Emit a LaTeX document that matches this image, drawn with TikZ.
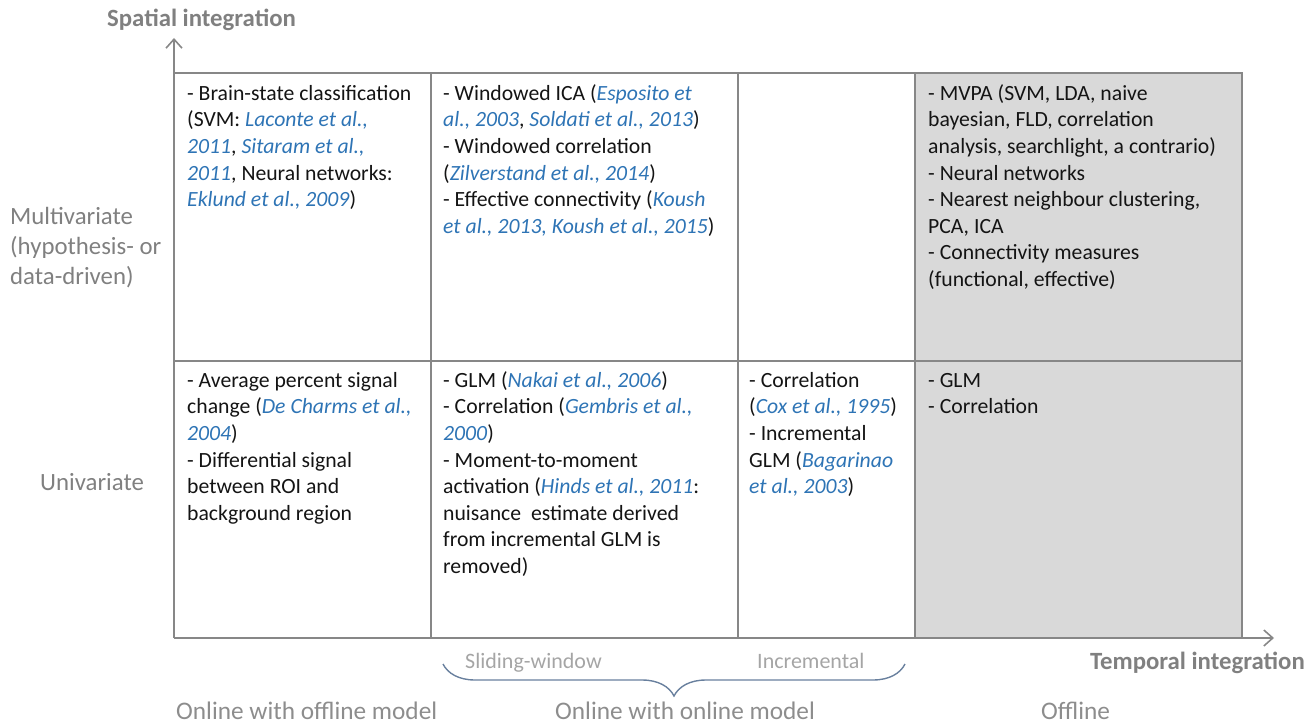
\documentclass[tikz,border=0pt]{standalone}
\usepackage{fontspec}
\setmainfont{Carlito}
\usetikzlibrary{arrows.meta,decorations.pathreplacing}
\definecolor{citeblue}{RGB}{46,116,181}
\definecolor{linegray}{RGB}{135,135,135}
\definecolor{cellgray}{RGB}{217,217,217}
\definecolor{labelgray}{RGB}{128,128,128}
\definecolor{lightlabel}{RGB}{165,165,165}
\definecolor{bracecol}{RGB}{105,128,158}
\newcommand{\rf}[1]{\textcolor{citeblue}{\textit{#1}}}
\begin{document}
\begin{tikzpicture}[x=1pt,y=-1pt,
  gridline/.style={draw=linegray,line width=2pt},
  axis/.style={draw=linegray,line width=2pt,-{Straight Barb[length=9pt,width=16pt,line width=1.6pt]}},
  celltext/.style={anchor=north west,inner sep=0pt,align=left,text=black!92,
    font=\fontsize{21.7}{26.6}\selectfont},
  axislabel/.style={inner sep=0pt,text=labelgray,font=\fontsize{24.8}{30}\selectfont\bfseries},
  rowlabel/.style={anchor=north west,inner sep=0pt,align=left,text=labelgray,font=\fontsize{24.8}{30}\selectfont},
  sublabel/.style={anchor=base west,inner sep=0pt,text=lightlabel,font=\fontsize{22}{26}\selectfont},
  grouplabel/.style={anchor=base west,inner sep=0pt,text=labelgray!90,font=\fontsize{25.3}{30}\selectfont}
]
\useasboundingbox (0,0) rectangle (1315,725);

% grey offline column
\fill[cellgray] (915,73) rectangle (1242,638);

% coordinates of the grid
\coordinate (O) at (174,638);
\coordinate (ytip) at (174,38);
\coordinate (xtip) at (1274,638);
\coordinate (tl) at (174,73);
\coordinate (tr) at (1242,73);
\coordinate (br) at (1242,638);
\coordinate (ml) at (174,361);
\coordinate (mr) at (1242,361);

% grid lines
\draw[gridline] (tl) -- (tr) -- (br);
\draw[gridline] (ml) -- (mr);
\foreach \x in {431,738,915} \draw[gridline] (\x,73) -- (\x,638);

% axes
\draw[axis] (O) -- (ytip);
\draw[axis] (O) -- (xtip);

% axis labels
\node[axislabel,anchor=base west] (ylab) at (107,27) {Spatial integration};
\node[axislabel,anchor=base east] (xlab) at (1305,669) {Temporal integration};

% row labels
\node[rowlabel] (multi) at (10,203) {\strut Multivariate\\(hypothesis- or\\data-driven)};
\node[rowlabel,anchor=base west] (uni) at (40,490) {Univariate};

% cells, top row
\node[celltext] (c11) at (187,81.4) {\strut - Brain-state classification\\
(SVM: \rf{Laconte et al.,}\\
\rf{2011}, \rf{Sitaram et al.,}\\
\rf{2011}, Neural networks:\\
\rf{Eklund et al., 2009})};

\node[celltext] (c12) at (443,81.4) {\strut - Windowed ICA (\rf{Esposito et}\\
\rf{al., 2003}, \rf{Soldati et al., 2013})\\
- Windowed correlation\\
(\rf{Zilverstand et al., 2014})\\
- Effective connectivity (\rf{Koush}\\
\rf{et al., 2013, Koush et al., 2015})};

\node[celltext] (c14) at (928,81.4) {\strut - MVPA (SVM, LDA, naive\\
bayesian, FLD, correlation\\
analysis, searchlight, a contrario)\\
- Neural networks\\
- Nearest neighbour clustering,\\
PCA, ICA\\
- Connectivity measures\\
(functional, effective)};

% cells, bottom row
\node[celltext] (c21) at (187,368.4) {\strut - Average percent signal\\
change (\rf{De Charms et al.,}\\
\rf{2004})\\
- Differential signal\\
between ROI and\\
background region};

\node[celltext] (c22) at (443,368.4) {\strut - GLM (\rf{Nakai et al., 2006})\\
- Correlation (\rf{Gembris et al.,}\\
\rf{2000})\\
- Moment-to-moment\\
activation (\rf{Hinds et al., 2011}:\\
nuisance\ \ estimate derived\\
from incremental GLM is\\
removed)};

\node[celltext] (c23) at (749,368.4) {\strut - Correlation\\
(\rf{Cox et al., 1995})\\
- Incremental\\
GLM (\rf{Bagarinao}\\
\rf{et al., 2003})};

\node[celltext] (c24) at (928,368.4) {\strut - GLM\\
- Correlation};

% sub labels and brace
\node[sublabel] (slide) at (465,668) {Sliding-window};
\node[sublabel] (incr) at (757,668) {Incremental};
\coordinate (bl) at (443,664);
\coordinate (brr) at (905,664);
\draw[bracecol,line width=1.4pt,decorate,decoration={brace,mirror,amplitude=32pt,aspect=0.5}] (bl) -- (brr);

% group labels
\node[grouplabel] (g1) at (176,719) {Online with offline model};
\node[grouplabel] (g2) at (555,719) {Online with online model};
\node[grouplabel] (g3) at (1041,719) {Offline};
\end{tikzpicture}
\end{document}
